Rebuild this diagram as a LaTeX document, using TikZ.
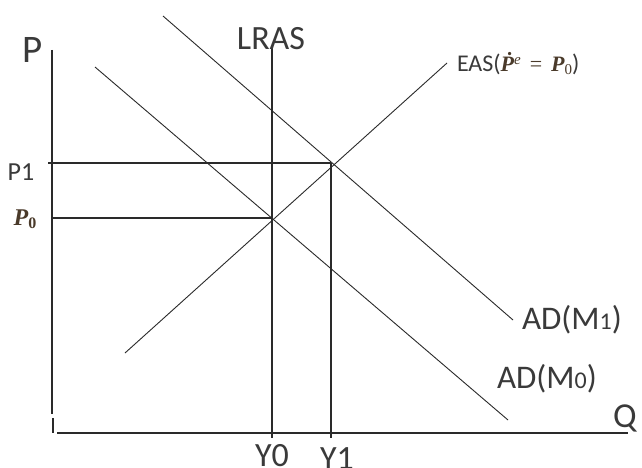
\documentclass[tikz,border=0pt]{standalone}
\usepackage{fontspec}
\setmainfont{Carlito}
\newfontfamily\mathlikefont{Liberation Serif}
\definecolor{ink}{HTML}{2A2A2A}
\definecolor{txt}{HTML}{3A3A3A}
\definecolor{mtxt}{HTML}{4A3A2A}
\newcommand{\mlP}{{\mathlikefont\bfseries\itshape P}}
\begin{document}
\begin{tikzpicture}[x=1pt,y=-1pt,
  axis/.style={draw=ink,line width=1.3pt},
  curve/.style={draw=ink,line width=0.9pt},
  guide/.style={draw=ink,line width=1.2pt},
  lbl/.style={text=txt,inner sep=0pt,outer sep=0pt},
]
\useasboundingbox[fill=white] (0,0) rectangle (642,468);
% coordinates
\coordinate (ptop) at (52,50);
\coordinate (pgap) at (52,414);
\coordinate (pb1) at (53,418);
\coordinate (pb2) at (53,433);
\coordinate (qleft) at (57,433);
\coordinate (qright) at (628,433);
\coordinate (lrtop) at (272,47);
\coordinate (lrbot) at (272,438);
\coordinate (y1top) at (331,163);
\coordinate (y1bot) at (331,438);
\coordinate (p1l) at (48,163);
\coordinate (p1r) at (331,163);
\coordinate (p0l) at (52,218);
\coordinate (p0r) at (272,218);
\coordinate (ad0a) at (95,67);
\coordinate (ad0b) at (508,420);
\coordinate (ad1a) at (163,16);
\coordinate (ad1b) at (513,320);
\coordinate (easa) at (125,353);
\coordinate (easb) at (447,63);
% axes and guides
\draw[axis] (ptop) -- (pgap);
\draw[axis] (pb1) -- (pb2);
\draw[axis] (qleft) -- (qright);
\draw[guide] (lrtop) -- (lrbot);
\draw[guide] (y1top) -- (y1bot);
\draw[guide] (p1l) -- (p1r);
\draw[guide] (p0l) -- (p0r);
% curves
\draw[curve] (ad0a) -- (ad0b);
\draw[curve] (ad1a) -- (ad1b);
\draw[curve] (easa) -- (easb);
% labels
\node[lbl,anchor=base] (P) at (33,63) {\fontsize{39}{39}\selectfont P};
\node[lbl,anchor=base] (LRAS) at (271,50) {\fontsize{34}{34}\selectfont LRAS};
\node[lbl,anchor=base] (P1) at (21,180) {\fontsize{26}{26}\selectfont P1};
\node[lbl,anchor=base,text=mtxt] (P0) at (25,225) {\fontsize{24}{24}\selectfont\mlP\raisebox{-3pt}{\fontsize{16}{16}\selectfont\mathlikefont\bfseries 0}};
\node[lbl,anchor=base west] (EAS) at (457,72) {\fontsize{24}{24}\selectfont EAS(\textcolor{mtxt}{\fontsize{22}{22}\selectfont{\mathlikefont\bfseries\itshape\.P}\raisebox{7pt}{\fontsize{15}{15}\selectfont\mathlikefont\itshape e}\hspace{9pt}{\mathlikefont =}\hspace{9pt}\mlP\raisebox{-3pt}{\fontsize{15}{15}\selectfont\mathlikefont 0}})};
\node[lbl,anchor=base west] (AD1) at (522,329) {\fontsize{33}{33}\selectfont AD(M{\fontsize{24}{24}\selectfont 1})};
\node[lbl,anchor=base west] (AD0) at (497,388) {\fontsize{33}{33}\selectfont AD(M{\fontsize{24}{24}\selectfont 0})};
\node[lbl,anchor=base] (Y0) at (272,466) {\fontsize{34}{34}\selectfont Y0};
\node[lbl,anchor=base] (Y1) at (337,469) {\fontsize{34}{34}\selectfont Y1};
\node[lbl,anchor=base west] (Q) at (613,427) {\fontsize{35}{35}\selectfont Q};
\end{tikzpicture}
\end{document}
